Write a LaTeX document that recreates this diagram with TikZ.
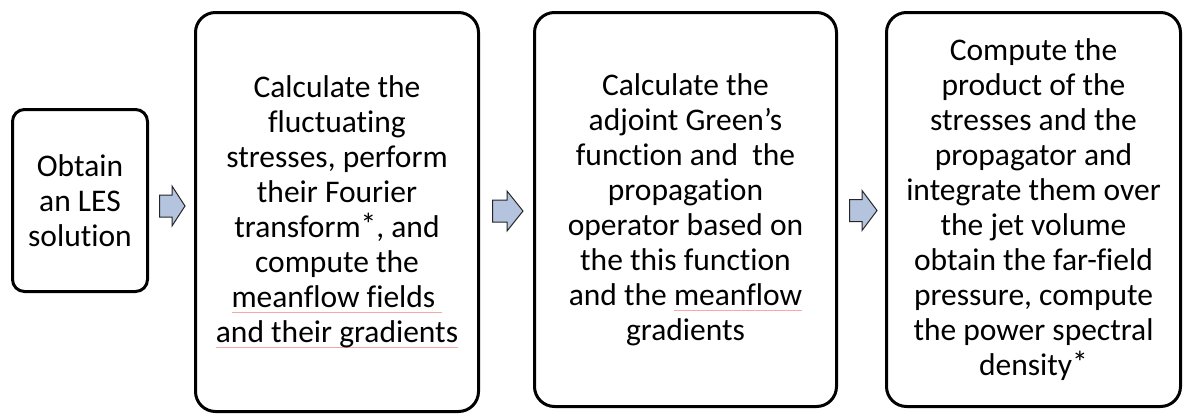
\documentclass[tikz,border=0pt]{standalone}
\usepackage{fontspec}
\setmainfont{Carlito}[Ligatures={NoCommon}]
\usetikzlibrary{calc}
\definecolor{arrowfill}{HTML}{B4C3DE}
\definecolor{squig}{HTML}{F4A8A8}
\newcommand\redul[1]{\sbox0{#1}\rlap{\color{squig}\rule[-5pt]{\wd0}{0.6pt}}\usebox0}
\newcommand\myast{\raisebox{2pt}{*}}
\tikzset{
  stepbox/.style={draw=black, line width=3pt, fill=white, rounded corners=20pt,
    align=center, inner sep=0pt, font=\fontsize{31.5}{35}\selectfont},
  blockarrow/.style={draw=black!85, line width=1pt, fill=arrowfill, line join=miter}
}
\newcommand\barrow[4]{% x1, xh, x2, yc
  \draw[blockarrow] (#1,#4-11) -- (#2,#4-11) -- (#2,#4-20) -- (#3,#4) -- (#2,#4+20) -- (#2,#4+11) -- (#1,#4+11) -- cycle;}
\begin{document}
\begin{tikzpicture}[x=1pt,y=-1pt]
\useasboundingbox (0,0) rectangle (1184,416);
\node[stepbox, rounded corners=12pt, minimum width=135pt, minimum height=182pt] (b1) at (80,200.5)
  {Obtain\\an LES\\solution};
\node[stepbox, minimum width=283pt, minimum height=399pt] (b2) at (337,212)
  {Calculate the\\fluctuating\\stresses, perform\\their Fourier\\transform\myast, and\\compute the\\\redul{meanflow fields\ }\\\redul{and their gradients}};
\node[stepbox, minimum width=302pt, minimum height=394pt] (b3) at (685.5,209.5)
  {Calculate the\\adjoint Green’s\\function and\ \ the\\propagation\\operator based on\\the this function\\and the \redul{meanflow}\\gradients};
\node[stepbox, minimum width=294pt, minimum height=394pt] (b4) at (1033.5,209.5)
  {Compute the\\product of the\\stresses and the\\propagator and\\integrate them over\\the jet volume\\obtain the far-field\\pressure, compute\\the power spectral\\density\myast};
\barrow{159.5}{172}{185}{206}
\barrow{492.5}{507}{523}{211}
\barrow{849.5}{862}{877}{210.5}
\end{tikzpicture}
\end{document}
